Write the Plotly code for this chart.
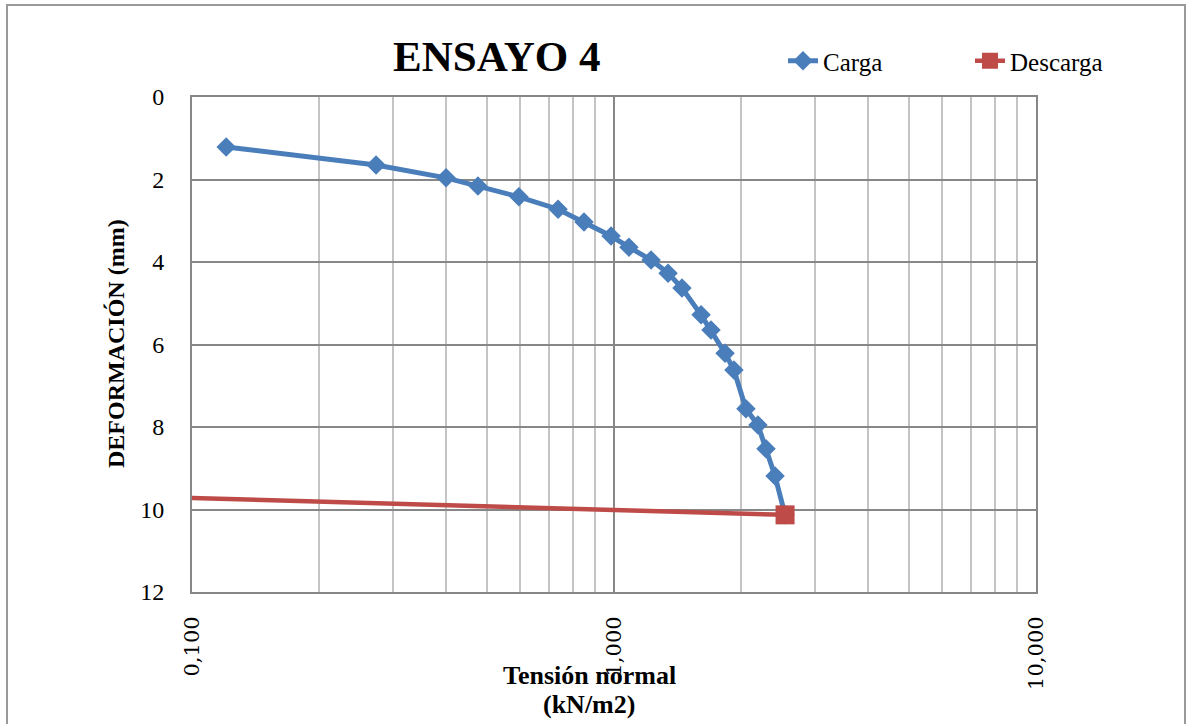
import plotly.graph_objects as go

# ---- data ----
carga_x = [0.1205, 0.273, 0.400, 0.476, 0.595, 0.737, 0.849, 0.984, 1.085, 1.224,
           1.343, 1.449, 1.608, 1.698, 1.833, 1.924, 2.054, 2.193, 2.292, 2.408, 2.543]
carga_y = [1.21, 1.65, 1.96, 2.16, 2.42, 2.72, 3.03, 3.37, 3.64, 3.95,
           4.27, 4.63, 5.28, 5.65, 6.21, 6.62, 7.56, 7.95, 8.53, 9.19, 10.13]
descarga_x = [0.05, 2.543]
descarga_y = [9.63, 10.13]

x_tickvals = [0.1, 1, 10]
x_ticktext = ["0,100", "1,000", "10,000"]
x_minor = [0.2, 0.3, 0.4, 0.5, 0.6, 0.7, 0.8, 0.9, 2, 3, 4, 5, 6, 7, 8, 9]
y_tickvals = [0, 2, 4, 6, 8, 10, 12]

W, H = 1188, 724
L, R, T, B = 192, 152, 97, 132
pw, ph = W - L - R, H - T - B

def px_x(p):
    return (p - L) / pw

def px_y(p):
    return (H - B - p) / ph

fig = go.Figure()
fig.add_trace(go.Scatter(
    x=carga_x, y=carga_y, name="Carga", mode="lines+markers",
    line=dict(color="#4A7EBB", width=5),
    marker=dict(symbol="diamond", size=15, color="#4A7EBB"),
))
fig.add_trace(go.Scatter(
    x=descarga_x, y=descarga_y, name="Descarga", mode="lines+markers",
    line=dict(color="#BE4B48", width=4.5),
    marker=dict(symbol="square", size=19, color="#BE4B48"),
))

serif = "Liberation Serif"
fig.update_layout(
    width=W, height=H, autosize=False,
    margin=dict(l=L, r=R, t=T, b=B),
    paper_bgcolor="white", plot_bgcolor="white",
    showlegend=True,
    legend=dict(orientation="h", x=px_x(783), y=px_y(61), xanchor="left", yanchor="middle",
                font=dict(family=serif, size=25, color="black"),
                entrywidth=142, entrywidthmode="pixels",
                bgcolor="rgba(0,0,0,0)"),
    xaxis=dict(type="log", range=[-1, 1], tickvals=x_tickvals, ticktext=x_ticktext,
               tickangle=-90, tickfont=dict(family="DejaVu Serif", size=21, color="black"),
               ticks="", ticklabelstandoff=14,
               showgrid=True, gridcolor="#878787", gridwidth=1.5,
               showline=True, linecolor="#878787", linewidth=2, mirror=True,
               minor=dict(tickvals=x_minor, showgrid=True, gridcolor="#C4C4C4", gridwidth=1.5, ticks=""),
               zeroline=False),
    yaxis=dict(range=[12, 0], tickvals=y_tickvals,
               tickfont=dict(family=serif, size=24, color="black"),
               ticks="", ticklabelstandoff=21,
               showgrid=True, gridcolor="#878787", gridwidth=1.5,
               showline=True, linecolor="#878787", linewidth=2, mirror=True,
               zeroline=False),
    annotations=[
        dict(text="<b>ENSAYO 4</b>", xref="paper", yref="paper", x=px_x(497), y=px_y(57),
             xanchor="center", yanchor="middle", showarrow=False,
             font=dict(family=serif, size=43, color="black")),
        dict(text="<b>DEFORMACIÓN (mm)</b>", xref="paper", yref="paper", x=px_x(116), y=px_y(344),
             xanchor="center", yanchor="middle", showarrow=False, textangle=-90,
             font=dict(family=serif, size=24, color="black")),
        dict(text="<b>Tensión normal</b>", xref="paper", yref="paper", x=px_x(589), y=px_y(675),
             xanchor="center", yanchor="middle", showarrow=False,
             font=dict(family=serif, size=26, color="black")),
        dict(text="<b>(kN/m2)</b>", xref="paper", yref="paper", x=px_x(589), y=px_y(704),
             xanchor="center", yanchor="middle", showarrow=False,
             font=dict(family=serif, size=26, color="black")),
    ],
    shapes=[dict(type="rect", xref="paper", yref="paper",
                 x0=px_x(7), x1=px_x(1185), y0=px_y(740), y1=px_y(5),
                 line=dict(color="#999999", width=2), fillcolor="rgba(0,0,0,0)", layer="below")],
)

fig.write_html("out.html")
